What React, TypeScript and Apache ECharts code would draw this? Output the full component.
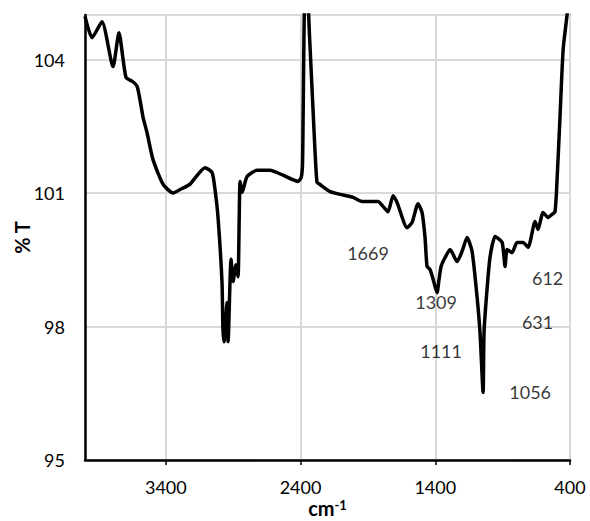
import React, { useEffect, useRef } from "react";
import * as echarts from "echarts";

// wavenumber (cm-1) and transmittance (% T)
const wavenumbers = [
  4000, 3948, 3874, 3792, 3748, 3696, 3644, 3614, 3592, 3569, 3540, 3495, 3421, 3347, 3280, 3220,
  3109, 3057, 3035, 3013, 2983, 2976, 2968, 2946, 2938, 2916, 2901, 2879, 2864, 2849, 2834, 2797,
  2723, 2627, 2530, 2419, 2395, 2385, 2368, 2350, 2333, 2300, 2278, 2255, 2181, 2107, 2010, 1944,
  1825, 1788, 1751, 1713, 1684, 1609, 1572, 1528, 1498, 1476, 1461, 1439, 1416, 1387, 1372, 1357,
  1327, 1290, 1238, 1201, 1164, 1127, 1090, 1068, 1045, 1038, 1016, 993, 956, 904, 882, 867,
  830, 793, 748, 711, 659, 637, 600, 563, 533, 511, 496, 474, 451, 422, 410,
];
const transmittance = [
  104.97, 104.49, 104.85, 103.84, 104.6, 103.6, 103.5, 103.4, 103.1, 102.7, 102.36, 101.75, 101.2, 101.0, 101.1, 101.2,
  101.57, 101.46, 101.08, 100.47, 98.99, 97.93, 97.66, 98.54, 97.66, 99.51, 99.01, 99.39, 99.12, 101.26, 101.01, 101.37,
  101.51, 101.51, 101.4, 101.26, 101.35, 101.7, 105.4, 105.4, 104.5, 102.4, 101.24, 101.19, 101.03, 100.97, 100.9, 100.81,
  100.81, 100.7, 100.58, 100.94, 100.79, 100.22, 100.34, 100.76, 100.56, 100.0, 99.35, 99.28, 99.06, 98.76, 99.06, 99.35,
  99.55, 99.73, 99.46, 99.69, 100.0, 99.69, 98.67, 97.87, 96.52, 97.87, 98.83, 99.57, 100.02, 99.89, 99.35, 99.73,
  99.66, 99.89, 99.89, 99.78, 100.36, 100.18, 100.56, 100.45, 100.52, 100.58, 101.3, 102.72, 104.22, 105.0, 105.4,
];

// peak annotations: label text and its position (x in cm-1, y in % T)
const peakLabels = ["1669", "1309", "1111", "1056", "631", "612"];
const peakLabelX = [1899, 1394, 1357, 696, 641, 566];
const peakLabelY = [99.66, 98.56, 97.44, 96.52, 98.09, 99.1];

const FONT = "Lato, 'Open Sans', sans-serif";

export default function App() {
  const ref = useRef<HTMLDivElement>(null);

  useEffect(() => {
    document.body.style.margin = "0";
    const chart = echarts.init(ref.current!, null, { renderer: "svg" });
    const lineData = wavenumbers.map((w, i) => [w, transmittance[i]]);
    const labelData = peakLabels.map((t, i) => ({ name: t, value: [peakLabelX[i], peakLabelY[i]] }));

    chart.setOption({
      animation: false,
      backgroundColor: "#ffffff",
      grid: {
        left: 85,
        right: 20,
        top: 15,
        bottom: 61,
        outerBoundsMode: "none",
        containLabel: false,
        show: true,
        borderColor: "#000",
        borderWidth: 1.5,
      },
      xAxis: {
        type: "value",
        inverse: true,
        min: 400,
        max: 4000,
        interval: 1000,
        name: "{a|cm}{b|-1}",
        nameLocation: "middle",
        nameGap: 38,
        nameMoveOverlap: false,
        nameTextStyle: {
          rich: {
            a: { fontFamily: FONT, fontSize: 20, fontWeight: "bold", color: "#000", lineHeight: 20 },
            b: { fontFamily: FONT, fontSize: 13, fontWeight: "bold", color: "#000", verticalAlign: "top", lineHeight: 13 },
          },
        },
        axisLine: { show: true, lineStyle: { color: "#000", width: 2.5 } },
        axisTick: { show: true, length: 5, lineStyle: { color: "#000", width: 1.5 } },
        axisLabel: {
          showMaxLabel: false,
          margin: 18,
          fontFamily: FONT,
          fontSize: 18,
          color: "#000",
          formatter: (v: number) => String(v),
        },
        splitLine: { show: true, lineStyle: { color: "#d9d9d9", width: 2 } },
      },
      yAxis: {
        type: "value",
        min: 95,
        max: 105,
        interval: 3,
        name: "% T",
        nameLocation: "middle",
        nameRotate: 90,
        nameGap: 53,
        nameMoveOverlap: false,
        nameTextStyle: { fontFamily: FONT, fontSize: 20, fontWeight: "bold", color: "#000" },
        axisLine: { show: true, lineStyle: { color: "#000", width: 2.5 } },
        axisTick: { show: false },
        axisLabel: {
          showMaxLabel: false,
          margin: 20,
          fontFamily: FONT,
          fontSize: 18,
          color: "#000",
          formatter: (v: number) => String(v),
        },
        splitLine: { show: true, lineStyle: { color: "#d9d9d9", width: 2 } },
      },
      series: [
        {
          type: "line",
          data: lineData,
          showSymbol: false,
          symbol: "none",
          smooth: 0.2,
          clip: true,
          lineStyle: { color: "#000", width: 3.5 },
          silent: true,
        },
        {
          type: "scatter",
          data: labelData,
          symbolSize: 1,
          itemStyle: { color: "rgba(0,0,0,0)" },
          silent: true,
          label: {
            show: true,
            position: "inside",
            formatter: (p: any) => p.name,
            fontFamily: FONT,
            fontSize: 18,
            color: "#000",
          },
        },
      ],
    });
    return () => chart.dispose();
  }, []);

  return <div ref={ref} style={{ width: 590, height: 521 }} />;
}
